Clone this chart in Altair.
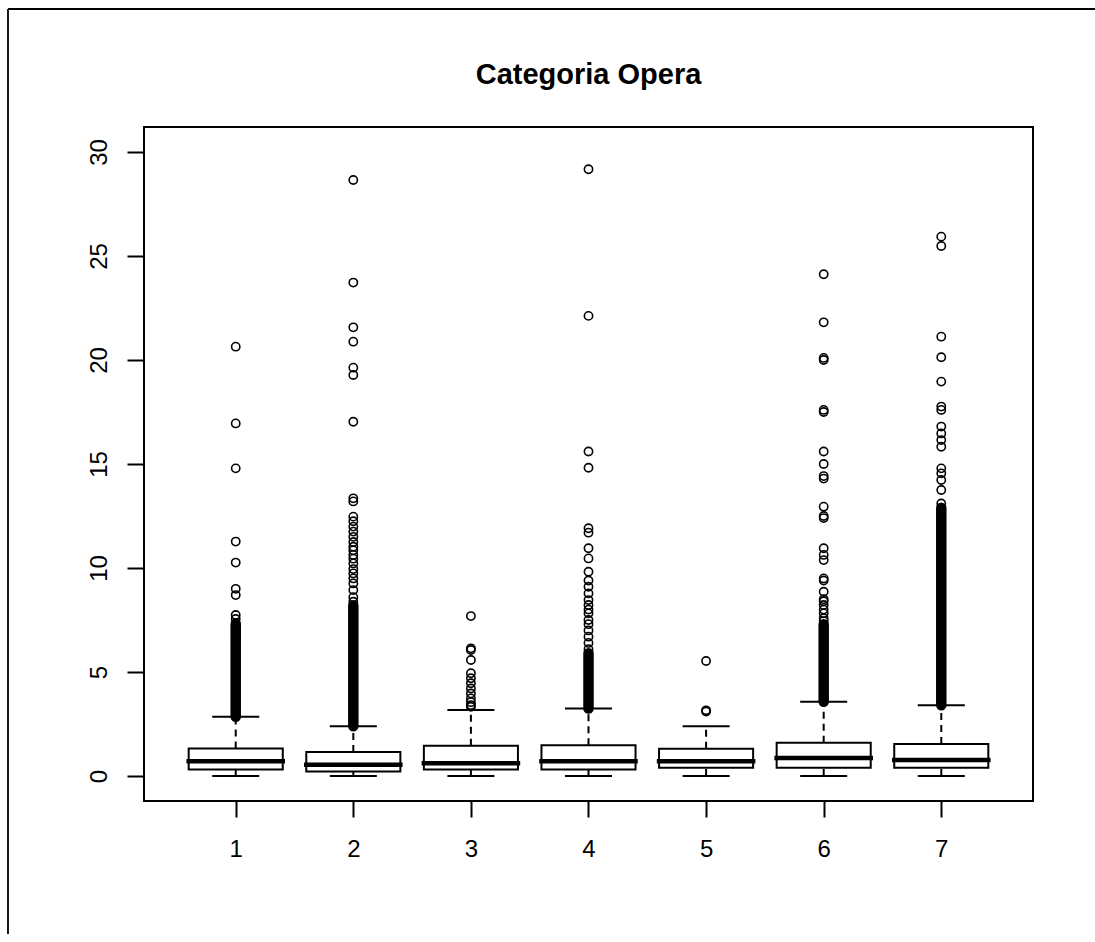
import altair as alt
import pandas as pd

# ---- data ----
groups = [1, 2, 3, 4, 5, 6, 7]
whisker_low = [0.0, 0.0, 0.0, 0.0, 0.0, 0.0, 0.0]
q1 = [0.32, 0.22, 0.32, 0.32, 0.40, 0.40, 0.40]
median = [0.71, 0.54, 0.61, 0.71, 0.71, 0.87, 0.77]
q3 = [1.32, 1.15, 1.46, 1.48, 1.31, 1.60, 1.54]
whisker_high = [2.85, 2.39, 3.17, 3.25, 2.39, 3.57, 3.40]

# ranges where the outlier circles overlap into a solid column
dense_low = [2.85, 2.39, None, 3.25, None, 3.57, 3.40]
dense_high = [7.30, 8.20, None, 5.90, None, 7.30, 12.90]

outliers_1 = [6.6, 6.85, 7.1, 7.35, 7.55, 7.74, 8.7, 9.0, 10.26, 11.27, 14.79, 16.95, 20.64]
outliers_2 = [8.38, 8.6, 8.94, 9.26, 9.5, 9.74, 9.95, 10.22, 10.45, 10.63, 10.85, 11.02,
              11.25, 11.5, 11.75, 11.99, 12.25, 12.47, 13.2, 13.35, 17.03, 19.28, 19.63,
              20.88, 21.57, 23.72, 28.65]
outliers_3 = [3.33, 3.41, 3.55, 3.73, 3.97, 4.21, 4.46, 4.7, 4.94, 5.58, 6.06, 6.14, 7.69]
outliers_4 = [6.1, 6.4, 6.7, 7.0, 7.3, 7.5, 7.82, 8.0, 8.22, 8.46, 8.78, 9.1, 9.4, 9.82,
              10.46, 10.95, 11.7, 11.91, 14.82, 15.6, 22.12, 29.17]
outliers_5 = [3.1, 3.16, 5.53]
outliers_6 = [7.45, 7.58, 7.82, 8.0, 8.22, 8.4, 8.5, 8.86, 9.4, 9.5, 10.38, 10.63, 10.95,
              12.4, 12.5, 12.95, 14.3, 14.42, 15.0, 15.6, 17.5, 17.6, 20.0, 20.1, 21.81, 24.12]
outliers_7 = [13.1, 13.75, 14.23, 14.55, 14.79, 15.83, 16.15, 16.47, 16.8, 17.6, 17.76,
              18.96, 20.13, 21.12, 25.48, 25.93]
outliers = [outliers_1, outliers_2, outliers_3, outliers_4, outliers_5, outliers_6, outliers_7]

y_ticks = [0, 5, 10, 15, 20, 25, 30]
title_text = "Categoria Opera"

# ---- tables ----
box_df = pd.DataFrame({
    "g": groups, "wl": whisker_low, "q1": q1, "med": median, "q3": q3, "wh": whisker_high,
})
box_df["lo"] = box_df["g"] - 0.4
box_df["hi"] = box_df["g"] + 0.4
box_df["slo"] = box_df["g"] - 0.2
box_df["shi"] = box_df["g"] + 0.2

dense_df = pd.DataFrame({"g": groups, "dl": dense_low, "dh": dense_high}).dropna()

out_df = pd.DataFrame(
    [{"g": g, "v": v} for g, vals in zip(groups, outliers) for v in vals]
)

FONT = "Liberation Sans"

xscale = alt.Scale(domain=[0.22, 7.78], nice=False, zero=False)
yscale = alt.Scale(domain=[-1.2, 31.2], nice=False, zero=False)

xaxis = alt.Axis(values=groups, format="d", title=None, domain=False, grid=False,
                 tickSize=16, tickWidth=2, tickColor="black",
                 labelFontSize=24, labelFont=FONT, labelColor="black",
                 labelPadding=20, labelBaseline="top", labelAlign="center",
                 labelFlush=False, labelOverlap=False)
yaxis = alt.Axis(values=y_ticks, format="d", title=None, domain=False, grid=False,
                 tickSize=17, tickWidth=2, tickColor="black",
                 labelFontSize=24, labelFont=FONT, labelColor="black",
                 labelAngle=270, labelAlign="center", labelBaseline="alphabetic",
                 labelPadding=21, labelFlush=False, labelOverlap=False)


def X(field):
    return alt.X(field, type="quantitative", scale=xscale, axis=xaxis)


def Y(field):
    return alt.Y(field, type="quantitative", scale=yscale, axis=yaxis)


base = alt.Chart(box_df)

whisk_up = base.mark_rule(color="black", strokeWidth=2, strokeDash=[7, 5]).encode(
    x=X("g"), y=Y("q3"), y2="wh")
whisk_dn = base.mark_rule(color="black", strokeWidth=2, strokeDash=[7, 5]).encode(
    x=X("g"), y=Y("wl"), y2="q1")
staple_hi = base.mark_rule(color="black", strokeWidth=2).encode(
    x=X("slo"), x2="shi", y=Y("wh"))
staple_lo = base.mark_rule(color="black", strokeWidth=2).encode(
    x=X("slo"), x2="shi", y=Y("wl"))
boxes = base.mark_rect(fill="white", stroke="black", strokeWidth=2).encode(
    x=X("lo"), x2="hi", y=Y("q1"), y2="q3")
medians = base.mark_rule(color="black", strokeWidth=4.5, strokeCap="square").encode(
    x=X("lo"), x2="hi", y=Y("med"))

dense = alt.Chart(dense_df).mark_rule(color="black", strokeWidth=10.5, strokeCap="round").encode(
    x=X("g"), y=Y("dl"), y2="dh")

points = alt.Chart(out_df).mark_point(shape="circle", filled=False, color="black",
                                      size=68, strokeWidth=1.6, opacity=1).encode(
    x=X("g"), y=Y("v"))

one = pd.DataFrame({"a": [0]})
title = alt.Chart(one).mark_text(text=title_text, font=FONT, fontSize=29, fontWeight="bold",
                                 color="black", align="center", baseline="alphabetic").encode(
    x=alt.value(444.5), y=alt.value(-43))
# outer picture border: only its top and left edges fall inside the frame
border_top = alt.Chart(one).mark_rule(color="black", strokeWidth=1.8).encode(
    x=alt.value(-136), x2=alt.value(2000), y=alt.value(-118))
border_left = alt.Chart(one).mark_rule(color="black", strokeWidth=1.8).encode(
    x=alt.value(-136), y=alt.value(-118), y2=alt.value(2000))

chart = alt.layer(
    border_top, border_left, whisk_up, whisk_dn, staple_hi, staple_lo, boxes, dense,
    points, medians, title
).properties(
    width=889, height=674,
    padding={"left": 144, "top": 127, "right": 62, "bottom": 133},
    autosize=alt.AutoSizeParams(type="none"),
    background="white",
).configure_view(stroke="black", strokeWidth=2)

chart.save("out.html", embed_options={"renderer": "svg", "actions": False})
